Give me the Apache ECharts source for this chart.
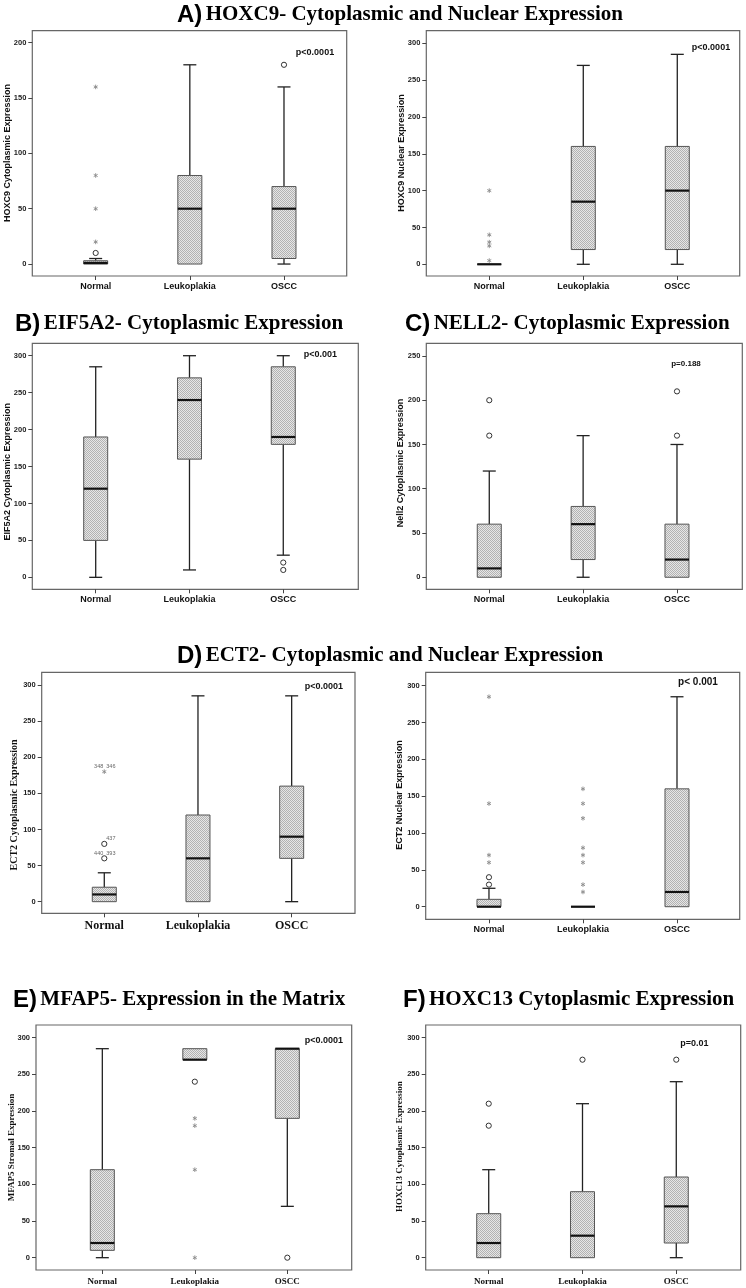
<!DOCTYPE html>
<html><head><meta charset="utf-8">
<script src="https://cdn.jsdelivr.net/npm/echarts@6/dist/echarts.min.js"></script>
<style>html,body{margin:0;padding:0;background:#fff}#chart{width:746px;height:1288px}</style>
</head><body><div id="chart"></div>
<script>
const categories = ['Normal', 'Leukoplakia', 'OSCC'];
const ticks200 = [0, 50, 100, 150, 200];
const ticks250 = [0, 50, 100, 150, 200, 250];
const ticks300 = [0, 50, 100, 150, 200, 250, 300];

// each box: [min, q1, median, q3, max] for Normal, Leukoplakia, OSCC
const hoxc9CytoBoxes = [[0, 0, 1, 3, 5], [0, 0, 50, 80, 180], [0, 5, 50, 70, 160]];
const hoxc9CytoCircles = [[0, 10], [2, 180]];
const hoxc9CytoStars = [[0, 20], [0, 50], [0, 80], [0, 160]];

const hoxc9NucBoxes = [[0, 0, 0, 0, 0], [0, 20, 85, 160, 270], [0, 20, 100, 160, 285]];
const hoxc9NucCircles = [];
const hoxc9NucStars = [[0, 5], [0, 25], [0, 30], [0, 40], [0, 100]];

const eif5a2Boxes = [[0, 50, 120, 190, 285], [10, 160, 240, 270, 300], [30, 180, 190, 285, 300]];
const eif5a2Circles = [[2, 20], [2, 10]];
const eif5a2Stars = [];

const nell2Boxes = [[0, 0, 10, 60, 120], [0, 20, 60, 80, 160], [0, 0, 20, 60, 150]];
const nell2Circles = [[0, 160], [0, 200], [2, 160], [2, 210]];
const nell2Stars = [];

const ect2CytoBoxes = [[0, 0, 10, 20, 40], [0, 0, 60, 120, 285], [0, 60, 90, 160, 285]];
const ect2CytoCircles = [[0, 60], [0, 80]];
const ect2CytoStars = [[0, 180]];
const ect2CytoCaseIds = [[0, 180, '348', -1], [0, 180, '346', 1], [0, 80, '437', 1], [0, 60, '440', -1], [0, 60, '393', 1]];

const ect2NucBoxes = [[0, 0, 0, 10, 25], [0, 0, 0, 0, 0], [0, 0, 20, 160, 285]];
const ect2NucCircles = [[0, 30], [0, 40]];
const ect2NucStars = [[0, 60], [0, 70], [0, 140], [0, 285], [1, 20], [1, 30], [1, 60], [1, 70], [1, 80], [1, 120], [1, 140], [1, 160]];

const mfap5Boxes = [[0, 10, 20, 120, 285], [270, 270, 270, 285, 285], [70, 190, 285, 285, 285]];
const mfap5Circles = [[1, 240], [2, 0]];
const mfap5Stars = [[1, 0], [1, 120], [1, 180], [1, 190]];

const hoxc13Boxes = [[0, 0, 20, 60, 120], [0, 0, 30, 90, 210], [0, 20, 70, 110, 240]];
const hoxc13Circles = [[0, 180], [0, 210], [1, 270], [2, 270]];
const hoxc13Stars = [];

const SANS = '"Liberation Sans", Arial, sans-serif';
const SERIF = '"Liberation Serif", "Times New Roman", serif';

const panels = [
  { boxes: hoxc9CytoBoxes, circles: hoxc9CytoCircles, stars: hoxc9CytoStars, ticks: ticks200,
    frame: [32.3, 30.7, 346.7, 276], x: [-0.673, 2.666], y: [-10.8, 210.8],
    yName: 'HOXC9 Cytoplasmic Expression', yNameAt: [8, 153], nameFont: SANS, nameSize: 9,
    catFont: SANS, catSize: 9, catMargin: 6, p: 'p<0.0001', pAt: [315, 52.7], pSize: 9 },
  { boxes: hoxc9NucBoxes, circles: hoxc9NucCircles, stars: hoxc9NucStars, ticks: ticks300,
    frame: [426.3, 30.7, 739.7, 276], x: [-0.670, 2.664], y: [-15.9, 317.1],
    yName: 'HOXC9 Nuclear Expression', yNameAt: [401.3, 153], nameFont: SANS, nameSize: 9,
    catFont: SANS, catSize: 9, catMargin: 6, p: 'p<0.0001', pAt: [711, 47.7], pSize: 9 },
  { boxes: eif5a2Boxes, circles: eif5a2Circles, stars: eif5a2Stars, ticks: ticks300,
    frame: [32.3, 343.3, 358.3, 589.3], x: [-0.676, 2.80], y: [-16.2, 316.8],
    yName: 'EIF5A2 Cytoplasmic Expression', yNameAt: [7.5, 471.7], nameFont: SANS, nameSize: 9,
    catFont: SANS, catSize: 9, catMargin: 6, p: 'p<0.001', pAt: [320.3, 355], pSize: 9 },
  { boxes: nell2Boxes, circles: nell2Circles, stars: nell2Stars, ticks: ticks250,
    frame: [426.3, 343.3, 742.3, 589.3], x: [-0.671, 2.696], y: [-13.6, 264.3],
    yName: 'Nell2 Cytoplasmic Expression', yNameAt: [401, 463], nameFont: SANS, nameSize: 9,
    catFont: SANS, catSize: 9, catMargin: 6, p: 'p=0.188', pAt: [686, 363.3], pSize: 8 },
  { boxes: ect2CytoBoxes, circles: ect2CytoCircles, stars: ect2CytoStars, ticks: ticks300, caseIds: ect2CytoCaseIds,
    frame: [41.7, 672.3, 355, 913.3], x: [-0.668, 2.676], y: [-16.1, 317.6],
    yName: 'ECT2 Cytoplasmic Expression', yNameAt: [14.5, 805], nameFont: SERIF, nameSize: 10,
    catFont: SERIF, catSize: 12, catMargin: 7, p: 'p<0.0001', pAt: [323.8, 686.7], pSize: 9 },
  { boxes: ect2NucBoxes, circles: ect2NucCircles, stars: ect2NucStars, ticks: ticks300,
    frame: [425.7, 672.3, 739.7, 919.3], x: [-0.673, 2.667], y: [-17.1, 318.2],
    yName: 'ECT2 Nuclear Expression', yNameAt: [400, 795], nameFont: SANS, nameSize: 9,
    catFont: SANS, catSize: 9, catMargin: 6, p: 'p< 0.001', pAt: [698, 682.7], pSize: 10 },
  { boxes: mfap5Boxes, circles: mfap5Circles, stars: mfap5Stars, ticks: ticks300,
    frame: [36, 1025, 351.7, 1270], x: [-0.717, 2.696], y: [-16.8, 317.3],
    yName: 'MFAP5 Stromal Expression', yNameAt: [12, 1147.5], nameFont: SERIF, nameSize: 9,
    catFont: SERIF, catSize: 9, catMargin: 7, p: 'p<0.0001', pAt: [323.8, 1040.7], pSize: 9 },
  { boxes: hoxc13Boxes, circles: hoxc13Circles, stars: hoxc13Stars, ticks: ticks300,
    frame: [425.7, 1025, 740.7, 1270], x: [-0.672, 2.687], y: [-16.8, 317.3],
    yName: 'HOXC13 Cytoplasmic Expression', yNameAt: [400, 1146.7], nameFont: SERIF, nameSize: 9,
    catFont: SERIF, catSize: 9, catMargin: 7, p: 'p=0.01', pAt: [694.3, 1044], pSize: 9 }
];

const titles = [
  ['A)', 'HOXC9- Cytoplasmic and Nuclear Expression', 177, 15],
  ['B)', 'EIF5A2- Cytoplasmic Expression', 15, 324],
  ['C)', 'NELL2- Cytoplasmic Expression', 405, 324],
  ['D)', 'ECT2- Cytoplasmic and Nuclear Expression', 177, 656],
  ['E)', 'MFAP5- Expression in the Matrix', 13, 1000],
  ['F)', 'HOXC13 Cytoplasmic Expression', 403, 1000]
];

const pattern = (function () {
  const c = document.createElement('canvas');
  c.width = 2; c.height = 2;
  const g = c.getContext('2d');
  g.fillStyle = '#e6e6e6'; g.fillRect(0, 0, 2, 2);
  g.fillStyle = '#b2b2b2'; g.fillRect(0, 0, 1, 1); g.fillRect(1, 1, 1, 1);
  return c;
})();

function seg(x1, y1, x2, y2, w, c) {
  return { type: 'line', shape: { x1: x1, y1: y1, x2: x2, y2: y2 }, style: { stroke: c || '#222', lineWidth: w } };
}

function renderBox(params, api) {
  const k = api.value(0);
  const p = [1, 2, 3, 4, 5].map(d => api.coord([k, api.value(d)]));
  const x = p[0][0];
  const yMin = p[0][1], yQ1 = p[1][1], yMd = p[2][1], yQ3 = p[3][1], yMax = p[4][1];
  const hb = 12, hc = 6.5;
  const ch = [];
  if (yQ3 - yMax > 0.5) { ch.push(seg(x, yQ3, x, yMax, 1.3)); ch.push(seg(x - hc, yMax, x + hc, yMax, 1.3)); }
  if (yMin - yQ1 > 0.5) { ch.push(seg(x, yQ1, x, yMin, 1.3)); ch.push(seg(x - hc, yMin, x + hc, yMin, 1.3)); }
  ch.push({ type: 'rect', shape: { x: x - hb, y: yQ3, width: 2 * hb, height: Math.max(yQ1 - yQ3, 0) },
    style: { fill: { image: pattern, repeat: 'repeat' }, stroke: '#555', lineWidth: 1 } });
  ch.push(seg(x - hb, yMd, x + hb, yMd, 2.2, '#111'));
  return { type: 'group', children: ch };
}

function renderCircle(params, api) {
  const c = api.coord([api.value(0), api.value(1)]);
  return { type: 'circle', shape: { cx: c[0], cy: c[1], r: 2.6 }, style: { fill: '#fff', stroke: '#333', lineWidth: 1 } };
}

function renderStar(params, api) {
  const c = api.coord([api.value(0), api.value(1)]);
  const r = 2.3, ch = [];
  for (let a = 0; a < 3; a++) {
    const t = Math.PI / 2 + a * Math.PI / 3;
    ch.push(seg(c[0] - r * Math.cos(t), c[1] - r * Math.sin(t), c[0] + r * Math.cos(t), c[1] + r * Math.sin(t), 0.9, '#8a8a8a'));
  }
  return { type: 'group', children: ch };
}

function renderCaseId(params, api) {
  const c = api.coord([api.value(0), api.value(1)]);
  const side = api.value(3);
  return { type: 'text', x: c[0] + (side < 0 ? -1 : 2), y: c[1] - 5,
    style: { text: String(api.value(2)), fontSize: 5.5, fontFamily: SANS, fill: '#666',
      align: side < 0 ? 'right' : 'left', verticalAlign: 'middle' } };
}

const grid = [], xAxis = [], yAxis = [], series = [], graphic = [];
panels.forEach((pn, i) => {
  const f = pn.frame;
  grid.push({ left: f[0], top: f[1], width: f[2] - f[0], height: f[3] - f[1], show: true,
    borderColor: '#666', borderWidth: 1.2, backgroundColor: 'transparent', containLabel: false, outerBoundsMode: 'none' });
  xAxis.push({ gridIndex: i, type: 'value', min: pn.x[0], max: pn.x[1],
    axisLine: { show: false, onZero: false }, splitLine: { show: false },
    axisTick: { show: true, inside: false, length: 4, customValues: [0, 1, 2], lineStyle: { color: '#444', width: 1 } },
    axisLabel: { customValues: [0, 1, 2], formatter: v => categories[Math.round(v)], margin: pn.catMargin,
      fontFamily: pn.catFont, fontSize: pn.catSize, fontWeight: 'bold', color: '#111' } });
  yAxis.push({ gridIndex: i, type: 'value', min: pn.y[0], max: pn.y[1],
    axisLine: { show: false, onZero: false }, splitLine: { show: false },
    axisTick: { show: true, inside: false, length: 4, customValues: pn.ticks, lineStyle: { color: '#444', width: 1 } },
    axisLabel: { customValues: pn.ticks, margin: 6, fontFamily: SANS, fontSize: 7.5, fontWeight: 'bold', color: '#222' } });
  series.push({ type: 'custom', xAxisIndex: i, yAxisIndex: i, silent: true, clip: false,
    data: pn.boxes.map((b, k) => [k].concat(b)), encode: { x: 0, y: [1, 2, 3, 4, 5] }, renderItem: renderBox });
  if (pn.circles.length) series.push({ type: 'custom', xAxisIndex: i, yAxisIndex: i, silent: true, clip: false,
    data: pn.circles, encode: { x: 0, y: 1 }, renderItem: renderCircle, z: 3 });
  if (pn.stars.length) series.push({ type: 'custom', xAxisIndex: i, yAxisIndex: i, silent: true, clip: false,
    data: pn.stars, encode: { x: 0, y: 1 }, renderItem: renderStar, z: 3 });
  if (pn.caseIds) series.push({ type: 'custom', xAxisIndex: i, yAxisIndex: i, silent: true, clip: false,
    dimensions: ['x', 'y', { name: 'id', type: 'ordinal' }, 'side'],
    data: pn.caseIds, encode: { x: 0, y: 1 }, renderItem: renderCaseId, z: 3 });
  graphic.push({ type: 'text', x: pn.yNameAt[0], y: pn.yNameAt[1], rotation: Math.PI / 2,
    style: { text: pn.yName, fontFamily: pn.nameFont, fontSize: pn.nameSize, fontWeight: 'bold', fill: '#111',
      align: 'center', verticalAlign: 'middle' } });
  graphic.push({ type: 'text', x: pn.pAt[0], y: pn.pAt[1],
    style: { text: pn.p, fontFamily: SANS, fontSize: pn.pSize, fontWeight: 'bold', fill: '#111',
      align: 'center', verticalAlign: 'middle' } });
});

titles.forEach(t => {
  graphic.push({ type: 'text', x: t[2], y: t[3],
    style: { text: '{a|' + t[0] + '} {b|' + t[1] + '}', align: 'left', verticalAlign: 'middle',
      rich: { a: { fontFamily: SANS, fontWeight: 'bold', fontSize: 24, fill: '#000' },
              b: { fontFamily: SERIF, fontWeight: 'bold', fontSize: 21, fill: '#000' } } } });
});

const chart = echarts.init(document.getElementById('chart'), null, { renderer: 'canvas' });
chart.setOption({ animation: false, backgroundColor: '#fff', grid, xAxis, yAxis, series, graphic });
</script></body></html>
